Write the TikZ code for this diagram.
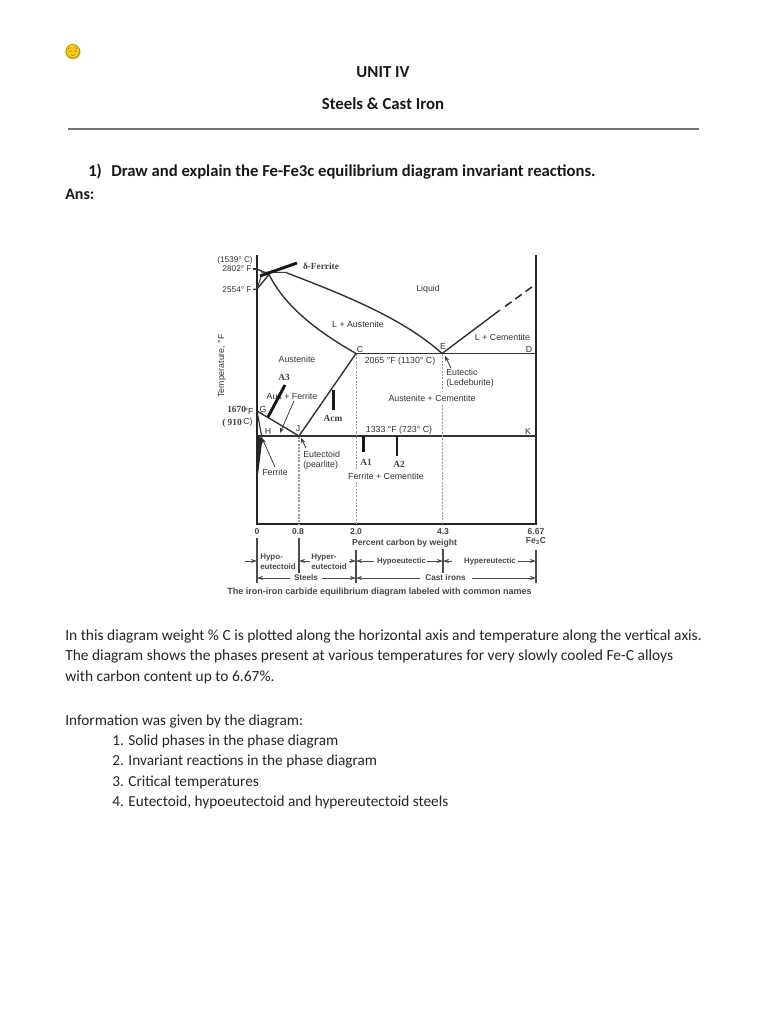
\documentclass[tikz,border=0pt]{standalone}
\usepackage{fontspec}
\setmainfont{Carlito}
\newfontfamily\diag{Liberation Sans}
\newfontfamily\dser{Liberation Serif}
\newfontfamily\emo{Noto Emoji}
\usetikzlibrary{arrows.meta}
\tikzset{
 page/.style={anchor=west,inner sep=0pt,font=\fontsize{11.6}{13}\selectfont,text=black!85},
 pagel/.style={page,font=\fontsize{11.45}{13}\selectfont},
 head/.style={inner sep=0pt,font=\fontsize{12.6}{14}\bfseries\selectfont,text=black!90},
 quest/.style={head,anchor=west,font=\fontsize{12.5}{14}\bfseries\selectfont},
 lab/.style={inner sep=0pt,font=\fontsize{6.6}{8}\diag\selectfont,text=black!80},
 labs/.style={lab,font=\fontsize{6.2}{8}\diag\selectfont},
 labw/.style={lab,anchor=west,align=left,font=\fontsize{6.6}{7.6}\diag\selectfont},
 caplab/.style={inner sep=0pt,font=\fontsize{5.85}{7}\bfseries\diag\selectfont,text=black!72},
 hyp/.style={caplab,anchor=west,align=left,font=\fontsize{6}{7.6}\bfseries\diag\selectfont},
 val/.style={lab,font=\fontsize{6.4}{7}\bfseries\diag\selectfont,text=black!72},
 ser/.style={inner sep=0pt,font=\fontsize{7}{8}\bfseries\dser\selectfont,text=black!75},
 curve/.style={line width=1.05pt,black!80},
 bar/.style={line width=2.2pt,black!90},
 guide/.style={line width=.8pt,black!40,dash pattern=on 1.4pt off 1.1pt},
 ptr/.style={line width=.55pt,black!80,-{Stealth[length=4pt,width=3pt]}},
 dim/.style={line width=.55pt,black!70,-{Stealth[length=4.5pt,width=3pt]}},
 tick/.style={line width=.9pt,black!70},
}
\begin{document}
\begin{tikzpicture}[x=0.75pt,y=-0.75pt]
\useasboundingbox (0,0) rectangle (768,1024);
\fill[white] (0,0) rectangle (768,1024);
% emoji
\fill[yellow!65!orange] (73,52) circle (7.6);
\node[inner sep=0pt,font=\fontsize{10.4}{10}\emo\selectfont,text=black!65] (emoji) at (73,52) {😌};
% header
\node[head] (unit) at (383,72.5) {UNIT IV};
\node[head] (steel) at (383,103.5) {Steels \& Cast Iron};
\coordinate (ruleL) at (68,129); \coordinate (ruleR) at (699,129);
\draw[black!55,line width=.8pt] (ruleL) -- (ruleR);
\node[quest] (qn) at (88,172) {1)};
\node[quest] (q) at (111,172.5) {Draw and explain the Fe-Fe3c equilibrium diagram invariant reactions.};
\node[quest,font=\fontsize{12}{14}\bfseries\selectfont] (ans) at (65,194) {Ans:};
% coordinates
\coordinate (TL) at (257,255); \coordinate (BL) at (257,524);
\coordinate (TR) at (536,255); \coordinate (BR) at (536,524);
\coordinate (peak) at (269,274.5); \coordinate (liqL) at (287,273);
\coordinate (C) at (356,353.5); \coordinate (E) at (442,353.5); \coordinate (D) at (536,353.5);
\coordinate (G) at (257,411); \coordinate (J) at (299,436); \coordinate (Hl) at (257,436); \coordinate (K) at (536,436);
\coordinate (P) at (262,438); \coordinate (Fb) at (257,478);
% frame
\draw[line width=1.15pt,black!85] (TL) -- (BL) -- (BR) -- (TR);
\draw[curve] (C) -- (D);
\draw[curve] (Hl) -- (K);
\draw[curve] (G) -- (J) -- (C);
% liquidus and solidus
\draw[curve] (liqL) .. controls (350,297) and (405,320) .. (E);
\draw[curve] (peak) .. controls (285,306) and (315,330) .. (C);
\draw[curve] (E) -- (500,310);
\draw[curve,dash pattern=on 6pt off 3.5pt,line width=1.2pt] (505,306.5) -- (536,284);
% delta corner
\coordinate (d1) at (257,269); \coordinate (d0) at (257,289); \coordinate (dr) at (287,272.5); \coordinate (dl) at (261,272);
\draw[curve] (d1) -- (peak) -- (d0);
\draw[line width=.8pt,black!75] (dl) -- (dr);
\draw[line width=.8pt,black!75] (261,277) -- (d0);
\draw[line width=.9pt,black!80] (253,269) -- (d1);
\draw[line width=.9pt,black!80] (253,289.5) -- (d0);
% ferrite wedge
\fill[black!85] (Hl) -- (P) -- (Fb) -- cycle;
\draw[line width=.8pt,black!85] (G) -- (P) -- (Fb);
% guides
\coordinate (g1) at (299,437); \coordinate (g1b) at (299,524);
\coordinate (g2) at (356.5,354); \coordinate (g2a) at (356.5,470); \coordinate (g2b) at (356.5,482); \coordinate (g2c) at (356.5,524);
\coordinate (g3) at (442.5,354); \coordinate (g3a) at (442.5,391); \coordinate (g3b) at (442.5,405); \coordinate (g3c) at (442.5,524);
\draw[guide] (g1) -- (g1b);
\draw[guide] (g2) -- (g2a) (g2b) -- (g2c);
\draw[guide] (g3) -- (g3a) (g3b) -- (g3c);
% labels in the field
\node[labs] (l1) at (235,260) {(1539° C)};
\node[labs] (l2) at (237,269) {2802° F};
\node[labs] (l3) at (237,290) {2554° F};
\node[ser] (dfer) at (321,266) {δ-Ferrite};
\node[lab] (liq) at (428,289) {Liquid};
\node[lab] (lau) at (358,324) {L + Austenite};
\node[lab] (nc) at (360,349) {C};
\node[lab] (aus) at (297,359) {Austenite};
\node[lab,rotate=90] (temp) at (222,366) {Temperature, °F};
\node[lab] (auf) at (292,396) {Aus + Ferrite};
\node[ser] (a3) at (284,377) {A3};
\node[ser,anchor=west] (t1670) at (227,409) {1670};
\node[ser,anchor=west] (t910) at (222,423) {( 910};
\node[lab] (fF) at (249,411) {°F};
\node[lab] (fC) at (248,422) {C)};
\node[lab] (nG) at (263,409) {G};
\node[lab] (nH) at (268,431.5) {H};
\node[lab] (nJ) at (298,429) {J};
\node[ser] (acm) at (333,418) {Acm};
\node[lab] (t1) at (400,361) {2065 °F (1130° C)};
\node[lab] (t2) at (399,430) {1333 °F (723° C)};
\node[lab] (nE) at (443,346) {E};
\node[lab] (nD) at (529,349) {D};
\node[lab] (nK) at (528,431) {K};
\node[lab] (lcem) at (502.5,337) {L + Cementite};
\node[lab] (acem) at (432,398) {Austenite + Cementite};
\node[labw] (eut) at (446,378) {Eutectic\\(Ledeburite)};
\node[labw] (eud) at (303,460.5) {Eutectoid\\(pearlite)};
\node[lab] (fer) at (275,472) {Ferrite};
\node[ser] (na1) at (366,462) {A1};
\node[ser] (na2) at (399,464) {A2};
\node[lab] (fcem) at (386,476) {Ferrite + Cementite};
% bars
\coordinate (b1a) at (260,276); \coordinate (b1b) at (297,263);
\coordinate (b2a) at (285,385); \coordinate (b2b) at (268,417);
\coordinate (b3a) at (333.5,390); \coordinate (b3b) at (333.5,410);
\coordinate (b4a) at (363.5,436); \coordinate (b4b) at (363.5,452);
\coordinate (b5a) at (397,436); \coordinate (b5b) at (397,456);
\foreach \a/\b in {b1a/b1b,b2a/b2b,b3a/b3b,b4a/b4b,b5a/b5b} \draw[bar] (\a) -- (\b);
% pointers
\coordinate (p1a) at (294,401); \coordinate (p1b) at (280,433);
\coordinate (p2a) at (275,467); \coordinate (p2b) at (262,438);
\coordinate (p3a) at (306,448); \coordinate (p3b) at (301,438);
\coordinate (p4a) at (451,368); \coordinate (p4b) at (445,356);
\foreach \a/\b in {p1a/p1b,p2a/p2b,p3a/p3b,p4a/p4b} \draw[ptr] (\a) -- (\b);
% axis values
\node[val] (x0) at (257,532) {0};
\node[val] (x1) at (298,532) {0.8};
\node[val] (x2) at (356,532) {2.0};
\node[val] (x3) at (443,532) {4.3};
\node[val] (x4) at (536,532) {6.67};
\node[val] (fe) at (536,541) {Fe\textsubscript{3}C};
\node[caplab,font=\fontsize{6.46}{7}\bfseries\diag\selectfont] (pct) at (404.5,543) {Percent carbon by weight};
% bottom ticks
\coordinate (v0a) at (257,538); \coordinate (v0b) at (257,583);
\coordinate (v1a) at (299,538); \coordinate (v1b) at (299,573);
\coordinate (v2a) at (356,550); \coordinate (v2b) at (356,583);
\coordinate (v3a) at (443,549); \coordinate (v3b) at (443,573);
\coordinate (v4a) at (536,550); \coordinate (v4b) at (536,583);
\foreach \a/\b in {v0a/v0b,v1a/v1b,v2a/v2b,v3a/v3b,v4a/v4b} \draw[tick] (\a) -- (\b);
% bottom labels
\node[hyp] (hypo) at (260,561.5) {Hypo-\\eutectoid};
\node[hyp] (hyper) at (311,561.5) {Hyper-\\eutectoid};
\node[caplab] (hpe) at (401.5,561) {Hypoeutectic};
\node[caplab] (hre) at (490,561) {Hypereutectic};
\node[caplab,font=\fontsize{6.1}{7}\bfseries\diag\selectfont] (stl) at (306,578) {Steels};
\node[caplab,font=\fontsize{6.2}{7}\bfseries\diag\selectfont] (cst) at (445.5,578) {Cast irons};
\node[caplab,font=\fontsize{6.77}{8}\bfseries\diag\selectfont] (capt) at (379.5,592) {The iron-iron carbide equilibrium diagram labeled with common names};
% bottom arrows
\coordinate (r1) at (245,561); \coordinate (r1e) at (257,561);
\coordinate (r2) at (310,561); \coordinate (r2e) at (299,561);
\coordinate (r3) at (349,561); \coordinate (r3e) at (356,561);
\coordinate (r4) at (374,561); \coordinate (r4e) at (356,561);
\coordinate (r5) at (427,561); \coordinate (r5e) at (443,561);
\coordinate (r6) at (452,561); \coordinate (r6e) at (443,561);
\coordinate (r7) at (518,561); \coordinate (r7e) at (536,561);
\coordinate (s1) at (290,578); \coordinate (s1e) at (257,578);
\coordinate (s2) at (322,578); \coordinate (s2e) at (356,578);
\coordinate (s3) at (420,578); \coordinate (s3e) at (356,578);
\coordinate (s4) at (472,578); \coordinate (s4e) at (536,578);
\foreach \a/\b in {r1/r1e,r2/r2e,r3/r3e,r4/r4e,r5/r5e,r6/r6e,r7/r7e,s1/s1e,s2/s2e,s3/s3e,s4/s4e} \draw[dim] (\a) -- (\b);
% body text
\node[page] (p1) at (65,636.5) {In this diagram weight \% C is plotted along the horizontal axis and temperature along the vertical axis.};
\node[page] (p2) at (65,656.5) {The diagram shows the phases present at various temperatures for very slowly cooled Fe-C alloys};
\node[page] (p3) at (65,677.5) {with carbon content up to 6.67\%.};
\node[pagel] (p4) at (65,721.5) {Information was given by the diagram:};
\node[pagel] (i1) at (112,741.5) {1. Solid phases in the phase diagram};
\node[pagel] (i2) at (112,761.5) {2. Invariant reactions in the phase diagram};
\node[pagel] (i3) at (112,782.5) {3. Critical temperatures};
\node[pagel] (i4) at (112,802.5) {4. Eutectoid, hypoeutectoid and hypereutectoid steels};
\end{tikzpicture}
\end{document}
